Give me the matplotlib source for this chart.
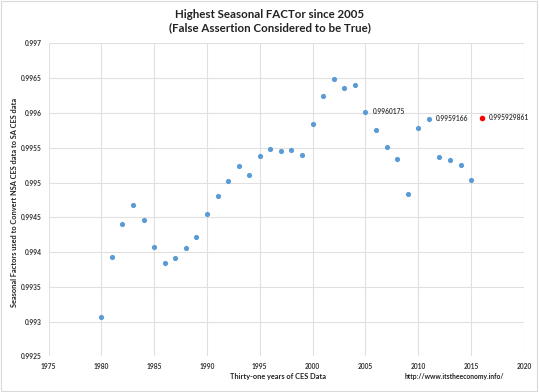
import matplotlib
matplotlib.use("Agg")
import matplotlib.pyplot as plt
from matplotlib.patches import Rectangle

years = list(range(1980, 2016))
values = [0.993063, 0.99393, 0.994404, 0.994677, 0.994457, 0.994069, 0.993848,
          0.993911, 0.994059, 0.994217, 0.994552, 0.99481, 0.995026, 0.995233,
          0.995112, 0.995376, 0.995481, 0.995453, 0.995467, 0.995391, 0.99584,
          0.996239, 0.996483, 0.996362, 0.996405, 0.9960175, 0.99575, 0.995514,
          0.995333, 0.99483, 0.995787, 0.9959166, 0.995371, 0.995328, 0.995256,
          0.99504]
red_year = [2016]
red_value = [0.995929861]
labels = {2005: "0.9960175", 2011: "0.9959166"}
red_label = "0.995929861"

title = "Highest Seasonal FACTor since 2005\n(False Assertion Considered to be True)"
xlabel = "Thirty-one years of CES Data"
ylabel = "Seasonal Factors used to Convert NSA CES data to SA CES data"
url = "http://www.itstheeconomy.info/"

plt.rcParams['font.family'] = ['Lato', 'DejaVu Sans']

fig = plt.figure(figsize=(5.39, 3.92), dpi=100)
ax = fig.add_axes([0.090, 0.0906, 0.882, 0.7989])

ax.scatter(years, values, s=14, color='#5B9BD5', zorder=3, linewidths=0)
ax.scatter(red_year, red_value, s=16, color='#FF0000', zorder=3, linewidths=0)
for yr, v in zip(years, values):
    if yr in labels:
        ax.annotate(labels[yr], (yr, v), xytext=(5, 0), textcoords='offset points',
                    fontsize=4.8, color='#404040', va='center', ha='left', fontweight='bold')
ax.annotate(red_label, (red_year[0], red_value[0]), xytext=(5, 0), textcoords='offset points',
            fontsize=4.8, color='#404040', va='center', ha='left', fontweight='bold')

ax.set_xlim(1975, 2020)
ax.set_ylim(0.9925, 0.997)
ax.set_xticks(range(1975, 2021, 5))
yt = [0.9925, 0.993, 0.9935, 0.994, 0.9945, 0.995, 0.9955, 0.996, 0.9965, 0.997]
ax.set_yticks(yt)
ax.set_yticklabels([("%.4f" % v).rstrip('0') for v in yt])
ax.grid(True, color='#e0e0e0', linewidth=0.8)
ax.set_axisbelow(True)
for s in ax.spines.values():
    s.set_visible(False)
ax.tick_params(length=0, labelsize=4.8, colors='#333333', pad=5)
for lab in ax.get_xticklabels() + ax.get_yticklabels():
    lab.set_fontweight('bold')

fig.text(0.5, 1 - 21 / 392, title, ha='center', va='center', fontsize=8.3, fontweight='bold',
         color='#222222', linespacing=1.3)
fig.text(278 / 539, 1 - 377 / 392, xlabel, ha='center', va='center', fontsize=5.3,
         fontweight='bold', color='#222222')
fig.text(15 / 539, 1 - 202 / 392, ylabel, ha='center', va='center', rotation=90,
         fontsize=5.3, fontweight='bold', color='#222222')
fig.text(454 / 539, 1 - 377 / 392, url, ha='center', va='center', fontsize=4.9,
         fontweight='bold', color='#222222')

fig.patches.append(Rectangle((0.002, 0.003), 0.995, 0.994, transform=fig.transFigure,
                             fill=False, edgecolor='#d9d9d9', linewidth=0.8))

fig.savefig('out.png', dpi=100)
